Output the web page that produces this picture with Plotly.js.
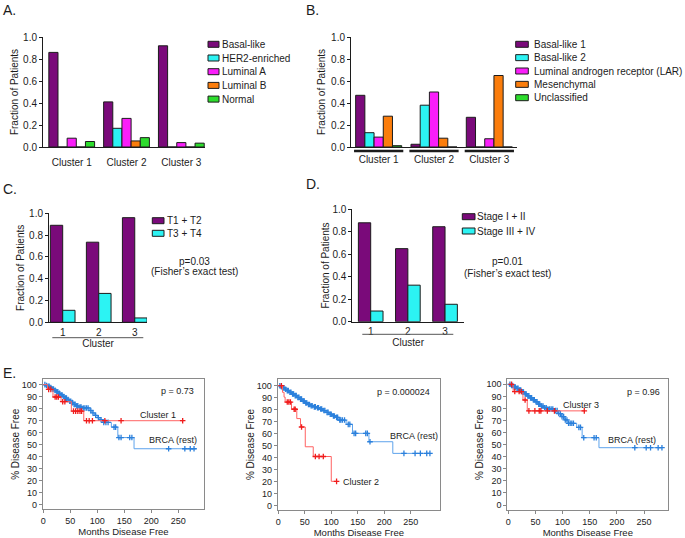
<!DOCTYPE html>
<html><head><meta charset="utf-8">
<script src="https://cdn.plot.ly/plotly-3.0.1.min.js"></script>
<style>html,body{margin:0;padding:0;background:#fff}#chart{width:685px;height:538px}</style>
</head><body><div id="chart"></div>
<script>
// ================= DATA =================
const clusterLabels = ['Cluster 1', 'Cluster 2', 'Cluster 3'];
const clusterNumbers = ['1', '2', '3'];

// A. PAM50 subtypes
const pam50Names = ['Basal-like', 'HER2-enriched', 'Luminal A', 'Luminal B', 'Normal'];
const pam50Basal  = [0.86, 0.41, 0.92];
const pam50Her2   = [0, 0.17, 0];
const pam50LumA   = [0.08, 0.26, 0.04];
const pam50LumB   = [0, 0.055, 0];
const pam50Normal = [0.05, 0.085, 0.035];

// B. TNBC subtypes
const tnbcNames = ['Basal-like 1', 'Basal-like 2', 'Luminal androgen receptor (LAR)', 'Mesenchymal', 'Unclassified'];
const tnbcBL1   = [0.47, 0.025, 0.27];
const tnbcBL2   = [0.13, 0.38, 0];
const tnbcLAR   = [0.09, 0.50, 0.075];
const tnbcMes   = [0.28, 0.08, 0.65];
const tnbcUncl  = [0.012, 0, 0];

// C. Tumour size
const tNames = ['T1 + T2', 'T3 + T4'];
const tEarly = [0.89, 0.735, 0.96];
const tLate  = [0.11, 0.265, 0.04];
const pTextC = ['p=0.03', '(Fisher\u2019s exact test)'];

// D. Stage
const stageNames = ['Stage I + II', 'Stage III + IV'];
const stageEarly = [0.88, 0.65, 0.845];
const stageLate  = [0.095, 0.325, 0.155];
const pTextD = ['p=0.01', '(Fisher\u2019s exact test)'];

// E. Kaplan-Meier, disease free survival
const monthTicks = [0, 50, 100, 150, 200, 250];
const pctTicks = [0, 10, 20, 30, 40, 50, 60, 70, 80, 90, 100];
const restLabel = 'BRCA (rest)';

// E1 : Cluster 1 vs rest
const km1RestT = [0,4,8,12,16,20,24,28,32,36,40,44,48,52,56,60,66,72,86,90,95,100,105,110,126,138,168,283];
const km1RestS = [100,99.3,98.5,97.5,96.4,95.2,94,92.7,91.4,90.1,88.8,87.5,86.2,85,83.6,82.3,81.4,80.6,78.5,76.5,74.5,72.5,70.8,68.6,64.7,56,46.7,46.7];
const km1RestCT = [3,6,9,11,14,17,19,22,25,27,30,33,35,38,41,43,46,49,51,54,57,59,62,64,68,70,74,77,80,83,88,92,97,102,107,112,116,120,131,134,140,144,160,164,232,262,272,279];
const km1RestCS = [100,99.3,98.5,98.5,97.5,96.4,96.4,95.2,94,94,92.7,91.4,91.4,90.1,88.8,88.8,87.5,86.2,86.2,85,83.6,83.6,82.3,82.3,81.4,81.4,80.6,80.6,80.6,80.6,78.5,76.5,74.5,72.5,70.8,68.6,68.6,68.6,64.7,64.7,56,56,56,56,46.7,46.7,46.7,46.7];
const km1ClT = [0,8,18,33,52,75,258];
const km1ClS = [100,96,89.7,85.8,78,70,70];
const km1ClCT = [10,14,22,25,28,36,40,56,60,64,68,71,80,85,91,114,144,258];
const km1ClCS = [96,96,89.7,89.7,89.7,85.8,85.8,78,78,78,78,78,70,70,70,70,70,70];
const km1P = 'p = 0.73';
const km1Label = 'Cluster 1';

// E2 : Cluster 2 vs rest
const km2RestT = [0,4,8,12,16,20,25,30,35,40,45,50,55,60,66,72,78,84,90,96,102,108,114,128,140,171,216,286];
const km2RestS = [100,99.2,98.2,97.1,95.9,94.6,93.1,91.7,90.3,88.8,87.2,85.6,84.4,83.3,82.4,81.6,80.6,79.3,77.8,76.2,74.8,73.6,71.4,67.8,60.3,53.3,43.6,43.6];
const km2RestCT = [3,6,9,11,14,17,19,22,24,27,29,32,34,37,39,42,44,47,49,52,54,57,59,62,64,68,70,74,76,80,82,86,88,92,94,98,100,104,106,110,112,116,118,121,125,132,135,143,146,165,168,173,237,258,268,280,286];
const km2RestCS = [100,99.2,98.2,98.2,97.1,95.9,95.9,94.6,94.6,93.1,93.1,91.7,91.7,90.3,90.3,88.8,88.8,87.2,87.2,85.6,85.6,84.4,84.4,83.3,83.3,82.4,82.4,81.6,81.6,80.6,80.6,79.3,79.3,77.8,77.8,76.2,76.2,74.8,74.8,73.6,73.6,71.4,71.4,71.4,71.4,67.8,67.8,60.3,60.3,60.3,60.3,53.3,43.6,43.6,43.6,43.6,43.6];
const km2ClT = [0,8,11,13,25,35,42,51,66,100,110];
const km2ClS = [100,94.5,90.5,86.4,80.4,72.6,65.6,49.1,41,20.3,20.3];
const km2ClCT = [6,17,20,23,30,32,44,70,77,85,110];
const km2ClCS = [100,86.4,86.4,86.4,80.4,80.4,65.6,41,41,41,20.3];
const km2P = 'p = 0.000024';
const km2Label = 'Cluster 2';

// E3 : Cluster 3 vs rest
const km3RestT = [0,5,10,15,20,25,30,35,40,45,50,55,60,66,72,86,92,98,104,110,126,136,167,283];
const km3RestS = [100,99,97.8,96.6,95.3,93.6,92,90.4,88.8,87.2,85.5,83.6,82,80.6,79.6,78.2,75.8,73.2,70.5,67.7,64.3,55.8,47.5,47.5];
const km3RestCT = [3,6,8,11,13,16,18,21,23,26,28,31,33,36,38,41,43,46,48,51,53,56,58,61,64,67,70,73,76,79,82,87,90,93,96,99,102,105,108,111,114,117,120,130,133,139,158,162,233,254,262,276,283];
const km3RestCS = [100,99,99,97.8,97.8,96.6,96.6,95.3,95.3,93.6,93.6,92,92,90.4,90.4,88.8,88.8,87.2,87.2,85.5,85.5,83.6,83.6,82,82,80.6,80.6,79.6,79.6,79.6,79.6,78.2,78.2,75.8,75.8,73.2,73.2,70.5,70.5,67.7,67.7,67.7,67.7,64.3,64.3,55.8,55.8,55.8,47.5,47.5,47.5,47.5,47.5];
const km3ClT = [0,9,27,35,140];
const km3ClS = [100,94,87,78,78];
const km3ClCT = [6,12,20,24,31,38,49,57,60,72,85,140];
const km3ClCS = [100,94,94,94,87,78,78,78,78,78,78,78];
const km3P = 'p = 0.96';
const km3Label = 'Cluster 3';

// ================= STYLE / LAYOUT HELPERS =================
const FONT = 'Liberation Sans, Arial, Helvetica, sans-serif';
const INK = '#1c1c1c';
const W = 685, H = 538;
const fx = p => p / W;
const fy = p => 1 - p / H;

const pamColors  = ['#7a0a7a', '#2cf3f3', '#fa1efa', '#fb7d0c', '#2ddd2d'];
const tnbcColors = ['#7a0a7a', '#2cf3f3', '#fa1efa', '#fb7d0c', '#2ddd2d'];
const pairColors = ['#7a0a7a', '#2cf3f3'];
const RED_LINE = '#ff6262', RED_MARK = '#f01c1c';
const BLUE_LINE = '#5ea3ec', BLUE_MARK = '#2b80dc';

const traces = [];
const shapes = [];
const annotations = [];

function addBars(names, series, colors, xa, ya, cats, groupW) {
  const n = series.length, w = groupW / n;
  series.forEach((vals, i) => traces.push({
    type: 'bar', name: names[i], x: cats, y: vals, xaxis: xa, yaxis: ya,
    width: w, offset: -groupW / 2 + i * w,
    marker: {color: colors[i], line: {color: INK, width: 1}},
    showlegend: false,
    hovertemplate: '%{x}: %{y:.2f}<extra>' + names[i] + '</extra>'
  }));
}

function addLegend(names, colors, bx0, bx1, tx, y0, dy, bh) {
  names.forEach((nm, i) => {
    const yc = y0 + i * dy;
    shapes.push({type: 'rect', xref: 'paper', yref: 'paper',
      x0: fx(bx0), x1: fx(bx1), y0: fy(yc + bh / 2), y1: fy(yc - bh / 2),
      fillcolor: colors[i], line: {color: INK, width: 1}});
    annotations.push({xref: 'paper', yref: 'paper', x: fx(tx - 1), y: fy(yc),
      xanchor: 'left', yanchor: 'middle', text: nm, showarrow: false, font: {size: 10}});
  });
}

function addText(txt, px, py, size, anchor) {
  annotations.push({xref: 'paper', yref: 'paper', x: fx(px), y: fy(py),
    xanchor: anchor || 'center', yanchor: 'middle', text: txt, showarrow: false,
    font: {size: size || 10}});
}

function addKM(t, s, ct, cs, lineColor, markColor, xa, ya, name) {
  traces.push({type: 'scatter', mode: 'lines', name: name, x: t, y: s, xaxis: xa, yaxis: ya,
    line: {shape: 'hv', color: lineColor, width: 1}, showlegend: false, hoverinfo: 'skip'});
  traces.push({type: 'scatter', mode: 'markers', name: name + ' (censored)', x: ct, y: cs, xaxis: xa, yaxis: ya,
    marker: {symbol: 'cross-thin', size: 4, color: markColor, line: {color: markColor, width: 1.3}},
    showlegend: false});
}

function barX(dom, range, anchor, standoff, title, titleStandoff) {
  const a = {domain: [fx(dom[0]), fx(dom[1])], range: range, type: 'category', anchor: anchor,
    showline: true, linecolor: INK, linewidth: 1, ticks: '', showgrid: false, zeroline: false,
    tickfont: {size: 10, color: INK}, ticklabelstandoff: standoff, fixedrange: true, automargin: false};
  if (title) a.title = {text: title, font: {size: 10, color: INK}, standoff: titleStandoff};
  return a;
}
function barY(dom, anchor, standoff) {
  return {domain: [fy(dom[0]), fy(dom[1])], range: [0, 1], anchor: anchor,
    showline: true, linecolor: INK, linewidth: 1, ticks: 'outside', ticklen: 3, tickcolor: INK,
    tick0: 0, dtick: 0.2, tickformat: '.1f', showgrid: false, zeroline: false,
    tickfont: {size: 10, color: INK}, fixedrange: true, automargin: false,
    title: {text: 'Fraction of Patients', font: {size: 10, color: INK}, standoff: standoff}};
}
function kmX(dom, range, anchor) {
  return {domain: [fx(dom[0]), fx(dom[1])], range: range, anchor: anchor, tickvals: monthTicks,
    ticks: 'outside', ticklen: 3, tickcolor: '#888', showline: true, mirror: true,
    linecolor: '#8a8a8a', linewidth: 1, showgrid: false, zeroline: false,
    tickfont: {size: 9, color: '#222'}, fixedrange: true, automargin: false,
    title: {text: 'Months Disease Free', font: {size: 9.5, color: '#222'}, standoff: 3}};
}
function kmY(dom, range, anchor) {
  return {domain: [fy(dom[0]), fy(dom[1])], range: range, anchor: anchor, tickvals: pctTicks,
    ticks: 'outside', ticklen: 3, tickcolor: '#888', showline: true, mirror: true,
    linecolor: '#8a8a8a', linewidth: 1, showgrid: false, zeroline: false,
    tickfont: {size: 9, color: '#222'}, fixedrange: true, automargin: false,
    title: {text: '% Disease Free', font: {size: 10, color: '#222'}, standoff: 0}};
}

// ----- Panel A -----
addBars(pam50Names, [pam50Basal, pam50Her2, pam50LumA, pam50LumB, pam50Normal], pamColors, 'x', 'y', clusterLabels, 0.835);
addLegend(pam50Names, pamColors, 208, 219, 221, 44.3, 13.7, 6);

// ----- Panel B -----
addBars(tnbcNames, [tnbcBL1, tnbcBL2, tnbcLAR, tnbcMes, tnbcUncl], tnbcColors, 'x2', 'y2', clusterLabels, 0.832);
addLegend(tnbcNames, tnbcColors, 515.7, 528.3, 532.7, 44.3, 13.35, 6);
clusterLabels.forEach((c, i) => shapes.push({type: 'line', xref: 'x2', yref: 'paper',
  x0: i - 0.445, x1: i + 0.445, y0: fy(151), y1: fy(151), line: {color: INK, width: 2.5}}));

// ----- Panel C -----
addBars(tNames, [tEarly, tLate], pairColors, 'x3', 'y3', clusterNumbers, 0.685);
addLegend(tNames, pairColors, 152.3, 164, 165.7, 220.7, 12.6, 6);
shapes.push({type: 'line', xref: 'paper', yref: 'paper', x0: fx(52.3), x1: fx(143.3), y0: fy(337.7), y1: fy(337.7), line: {color: '#555', width: 1}});
addText(pTextC[0], 194.3, 261);
addText(pTextC[1], 194.3, 271.5);

// ----- Panel D -----
addBars(stageNames, [stageEarly, stageLate], pairColors, 'x4', 'y4', clusterNumbers, 0.663);
addLegend(stageNames, pairColors, 462.3, 475, 476, 216.7, 14.3, 6);
shapes.push({type: 'line', xref: 'paper', yref: 'paper', x0: fx(362.3), x1: fx(453.3), y0: fy(334.3), y1: fy(334.3), line: {color: '#555', width: 1}});
addText(pTextD[0], 507.5, 261);
addText(pTextD[1], 507.5, 273);

// ----- Panel E -----
addKM(km1RestT, km1RestS, km1RestCT, km1RestCS, BLUE_LINE, BLUE_MARK, 'x5', 'y5', restLabel);
addKM(km1ClT, km1ClS, km1ClCT, km1ClCS, RED_LINE, RED_MARK, 'x5', 'y5', km1Label);
addKM(km2RestT, km2RestS, km2RestCT, km2RestCS, BLUE_LINE, BLUE_MARK, 'x6', 'y6', restLabel);
addKM(km2ClT, km2ClS, km2ClCT, km2ClCS, RED_LINE, RED_MARK, 'x6', 'y6', km2Label);
addKM(km3RestT, km3RestS, km3RestCT, km3RestCS, BLUE_LINE, BLUE_MARK, 'x7', 'y7', restLabel);
addKM(km3ClT, km3ClS, km3ClCT, km3ClCS, RED_LINE, RED_MARK, 'x7', 'y7', km3Label);

addText(km1P, 177.3, 391, 9);
addText(km1Label, 157.5, 415, 9);
addText(restLabel, 172.5, 440, 9);
addText(km2P, 403.3, 392, 9);
addText(restLabel, 413.8, 435.5, 9);
addText(km2Label, 360.8, 482, 9);
addText(km3P, 643.8, 392, 9);
addText(km3Label, 581.2, 404.7, 9);
addText(restLabel, 632.2, 440.3, 9);

// panel letters
addText('A.', 1, 10, 14, 'left');
addText('B.', 304, 10, 14, 'left');
addText('C.', 1, 189, 14, 'left');
addText('D.', 304, 184, 14, 'left');
addText('E.', 1, 373, 14, 'left');

const layout = {
  width: W, height: H,
  margin: {l: 0, r: 0, t: 0, b: 0, pad: 0},
  paper_bgcolor: '#fff', plot_bgcolor: 'rgba(0,0,0,0)',
  font: {family: FONT, size: 10, color: INK},
  showlegend: false,
  barmode: 'group',
  xaxis:  barX([43, 205], [-0.524, 2.432], 'y', 6),
  yaxis:  barY([147, 37], 'x', 2),
  xaxis2: barX([351, 517], [-0.5, 2.5], 'y2', 3),
  yaxis2: barY([147, 37], 'x2', 3),
  xaxis3: barX([49, 147], [-0.38, 2.34], 'y3', 1, 'Cluster', 1),
  yaxis3: barY([322.3, 213.3], 'x3', 2),
  xaxis4: barX([352.3, 464], [-0.495, 2.51], 'y4', 0, 'Cluster', 1),
  yaxis4: barY([321.7, 209.3], 'x4', 0),
  xaxis5: kmX([42.7, 204.3], [-1, 298], 'y5'),
  yaxis5: kmY([509.3, 379.3], [-3.6, 104.4], 'x5'),
  xaxis6: kmX([277.7, 440], [-1, 305], 'y6'),
  yaxis6: kmY([510, 379], [-3.6, 105.6], 'x6'),
  xaxis7: kmX([507.3, 668.3], [-1.8, 294.7], 'y7'),
  yaxis7: kmY([510, 379], [-4.1, 104.4], 'x7'),
  shapes: shapes,
  annotations: annotations
};

Plotly.newPlot('chart', traces, layout, {displayModeBar: false, staticPlot: true});
</script>
</body></html>
